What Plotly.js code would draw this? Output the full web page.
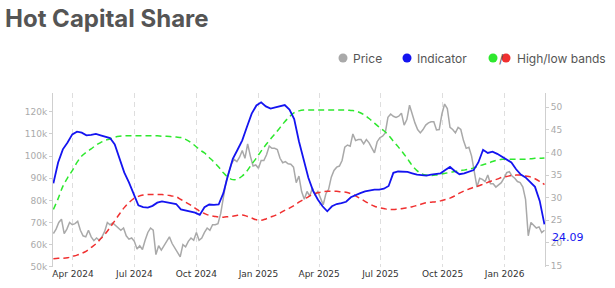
<!DOCTYPE html>
<html>
<head>
<meta charset="utf-8">
<script src="https://cdn.plot.ly/plotly-3.0.1.min.js"></script>
<style>html,body{margin:0;padding:0;background:#fff}</style>
</head>
<body>
<div id="chart" style="width:615px;height:288px"></div>
<script>
// Price (USD thousands), sampled every 4 days
const priceStart = '2024-03-03';
const priceStepDays = 4;
const price = [
  65, 67, 70, 71.5, 65, 67, 70, 69, 69.5, 70.5,
  66.5, 64, 63.5, 66.5, 63.5, 61.8, 63, 62, 63.5, 66,
  70, 69, 69.8, 68.7, 67.5, 66.5, 67.5, 64, 62.5, 63,
  61.5, 58, 59.5, 57.8, 62, 65.5, 67.5, 66.5, 55.5, 59.5,
  57.5, 59.5, 61, 63.5, 60.5, 58.5, 56.5, 54.5, 60, 59,
  61.5, 63, 62, 65.5, 62, 63, 65.5, 67.5, 66.5, 69,
  69, 69.5, 74, 81, 88.5, 92.5, 96.5, 98.5, 97.5, 99.5,
  102.5, 99, 105.5, 100, 95.5, 96, 94.5, 98, 98, 100.6,
  104.5, 103.5, 103.5, 103, 99, 97, 97.5, 96.5, 96.3, 95,
  88, 91, 84, 80.5, 84, 82, 85.5, 82.5, 84, 81,
  78, 83, 85, 90.5, 93.5, 95, 95.5, 98, 104, 105,
  104.5, 110, 107, 107.5, 107.5, 105.5, 107.5, 106, 104, 101.5,
  106.5, 108.3, 109, 110.5, 117.5, 119, 118, 117.5, 118, 119.4,
  114, 116.5, 123, 118.5, 115, 112, 110.5, 112, 114, 115,
  115.5, 115.5, 111.8, 112, 119, 123.5, 121.5, 113, 112, 110.5,
  113, 112, 107, 103.5, 104, 100, 93.5, 86, 90, 89.5,
  88.5, 91.5, 87.5, 87.5, 86, 87, 88, 90, 92.5, 93,
  91, 90, 88.5, 88, 86, 80.5, 64, 70, 68.5, 67.5,
  68, 65.5, 66.5
];

// Indicator and its bands, sampled weekly
const weeklyStart = '2024-03-03';
const weeklyStepDays = 7;
const indicator = [
  33.2, 37.8, 40.7, 42.2, 44.0, 44.6, 44.4, 43.8, 43.9, 44.1,
  43.8, 43.5, 43.2, 41.8, 38.7, 35.6, 33.4, 30.7, 28.3, 27.9,
  27.8, 28.2, 28.9, 29.2, 29.0, 28.8, 28.6, 27.4, 27.2, 27.0,
  26.7, 26.2, 27.9, 28.5, 28.4, 28.5, 31.0, 35.0, 38.6, 40.6,
  42.7, 45.7, 48.6, 50.4, 51.1, 50.2, 49.7, 50.0, 50.3, 50.5,
  49.5, 47.4, 42.5, 38.5, 34.4, 31.5, 29.6, 28.1, 27.0, 28.1,
  28.6, 28.8, 29.1, 30.1, 30.6, 31.0, 31.4, 31.6, 31.8, 31.8,
  32.0, 32.6, 35.5, 35.8, 35.8, 35.7, 35.4, 35.1, 35.0, 34.9,
  35.1, 35.3, 35.4, 36.1, 36.8, 35.9, 35.2, 35.4, 35.8, 36.1,
  37.8, 40.6, 39.9, 40.2, 39.7, 39.1, 38.5, 37.8, 36.3, 35.1,
  34.5, 33.4, 32.4, 29.3, 24.09
];
const highBand = [
  27.4, 29.8, 32.5, 34.4, 36.0, 37.8, 39.2, 40.1, 40.8, 41.6,
  42.2, 42.7, 43.0, 43.4, 43.6, 43.7, 43.7, 43.7, 43.7, 43.7,
  43.7, 43.7, 43.7, 43.6, 43.6, 43.5, 43.4, 43.3, 42.9, 42.3,
  41.5, 40.6, 39.9, 38.9, 37.9, 36.8, 35.5, 34.5, 34.0, 34.1,
  34.8, 35.9, 37.4, 38.8, 40.3, 41.7, 43.0, 44.2, 45.5, 46.8,
  47.9, 48.8, 49.2, 49.4, 49.4, 49.4, 49.4, 49.4, 49.4, 49.4,
  49.4, 49.4, 49.4, 49.3, 49.2, 48.8, 48.2, 47.4, 46.5, 45.6,
  44.8, 43.8, 42.5, 41.3, 40.0, 38.6, 37.1, 36.0, 35.3, 35.0,
  34.9, 35.0, 35.2, 35.4, 35.6, 35.8, 36.0, 36.1, 36.3, 36.6,
  37.0, 37.3, 37.6, 38.0, 38.3, 38.5, 38.5, 38.5, 38.5, 38.5,
  38.5, 38.6, 38.7, 38.7, 38.8
];
const lowBand = [
  16.5, 16.6, 16.6, 16.7, 17.0, 17.3, 17.7, 18.2, 19.0, 19.8,
  20.9, 22.0, 23.4, 24.9, 26.4, 27.8, 28.9, 29.8, 30.3, 30.6,
  30.7, 30.7, 30.7, 30.7, 30.6, 30.4, 30.2, 29.6, 29.0, 28.4,
  27.7, 27.0, 26.5, 26.1, 25.9, 25.7, 25.7, 25.8, 25.9, 26.1,
  26.2, 25.9, 25.5, 25.1, 25.0, 25.3, 25.7, 26.1, 26.6, 27.2,
  27.7, 28.3, 29.0, 29.6, 30.2, 30.8, 31.1, 31.3, 31.4, 31.4,
  31.4, 31.3, 31.2, 30.9, 30.4, 29.8, 29.2, 28.6, 28.1, 27.8,
  27.6, 27.4, 27.4, 27.5, 27.6, 27.8, 28.0, 28.3, 28.6, 28.9,
  29.0, 29.1, 29.3, 29.6, 29.9, 30.4, 31.0, 31.5, 31.9, 32.3,
  32.6, 33.0, 33.4, 33.8, 34.1, 34.5, 34.7, 34.9, 35.0, 35.0,
  34.8, 34.6, 34.2, 33.6, 32.9
];

// Axis ticks
const xTickDates = ['2024-04-01', '2024-07-01', '2024-10-01', '2025-01-01',
                    '2025-04-01', '2025-07-01', '2025-10-01', '2026-01-01'];
const priceTicks = [50, 60, 70, 80, 90, 100, 110, 120];
const priceTickText = ['50k', '60k', '70k', '80k', '90k', '100k', '110k', '120k'];
const indicatorTicks = [15, 20, 25, 30, 35, 40, 45, 50];

function dateSeries(start, stepDays, count) {
  const t0 = Date.parse(start + 'T00:00:00Z');
  const out = [];
  for (let i = 0; i < count; i++) {
    out.push(new Date(t0 + i * stepDays * 86400000).toISOString().slice(0, 10));
  }
  return out;
}

const priceDates = dateSeries(priceStart, priceStepDays, price.length);
const weeklyDates = dateSeries(weeklyStart, weeklyStepDays, indicator.length);

const GREY = '#a9a9a9', BLUE = '#1414f0', GREEN = '#2ee82e', RED = '#f03030';

const traces = [
  { x: priceDates, y: price, yaxis: 'y', type: 'scatter', mode: 'lines',
    line: { color: GREY, width: 1.5 }, hoverinfo: 'skip' },
  { x: weeklyDates, y: highBand, yaxis: 'y2', type: 'scatter', mode: 'lines',
    line: { color: GREEN, width: 1.5, dash: '6px,4px', shape: 'spline' } },
  { x: weeklyDates, y: lowBand, yaxis: 'y2', type: 'scatter', mode: 'lines',
    line: { color: RED, width: 1.5, dash: '6px,4px', shape: 'spline' } },
  { x: weeklyDates, y: indicator, yaxis: 'y2', type: 'scatter', mode: 'lines',
    line: { color: BLUE, width: 1.8 } }
];

// plot box in pixels: left 53, right 545, top 93, bottom 267
const L = 53, R = 545, T = 93, B = 267;
const px = v => (v - L) / (R - L);
const py = v => (B - v) / (B - T);

function dot(cx, cy, color) {
  return { type: 'circle', xref: 'paper', yref: 'paper',
    xsizemode: 'pixel', ysizemode: 'pixel',
    xanchor: px(cx), yanchor: py(cy), x0: -4.5, x1: 4.5, y0: -4.5, y1: 4.5,
    fillcolor: color, line: { width: 0 } };
}
function legendText(x, text) {
  return { xref: 'paper', yref: 'paper', x: px(x), y: py(58), xanchor: 'left', yanchor: 'middle',
    text: text, showarrow: false, font: { family: 'Inter, Roboto, sans-serif', size: 12, color: '#555' } };
}

const lastValue = indicator[indicator.length - 1];

const layout = {
  width: 615, height: 288,
  margin: { l: L, r: 615 - R, t: T, b: 288 - B },
  paper_bgcolor: '#fff', plot_bgcolor: '#fff',
  showlegend: false,
  title: { text: 'Hot Capital Share', xref: 'container', yref: 'container',
    x: 5 / 615, xanchor: 'left', y: 1 - 19 / 288, yanchor: 'middle',
    font: { family: 'Inter, Roboto, sans-serif', size: 24, weight: 700, color: '#555' } },
  xaxis: {
    type: 'date', range: ['2024-03-02 10:00', '2026-03-01 20:00'],
    tickvals: xTickDates, tickformat: '%b %Y',
    showgrid: true, gridcolor: '#dedede', gridwidth: 1, griddash: '5px,4px',
    showline: false, zeroline: false, ticks: '',
    tickfont: { family: 'DejaVu Sans', size: 9, color: '#333' }
  },
  yaxis: {
    range: [49.9, 128.5], tickvals: priceTicks, ticktext: priceTickText,
    showgrid: false, zeroline: false, showline: true, linecolor: '#cfcfcf', linewidth: 1,
    ticks: 'outside', ticklen: 3, tickcolor: '#cfcfcf',
    tickfont: { family: 'DejaVu Sans', size: 9, color: '#aaa' }
  },
  yaxis2: {
    overlaying: 'y', side: 'right', range: [14.67, 53.16], tickvals: indicatorTicks,
    showgrid: false, zeroline: false, showline: true, linecolor: '#cfcfcf', linewidth: 1,
    ticks: 'outside', ticklen: 3, tickcolor: '#cfcfcf',
    tickfont: { family: 'DejaVu Sans', size: 9, color: '#aaa' }
  },
  shapes: [
    dot(343, 58, GREY), dot(407, 58, BLUE), dot(493, 58, GREEN), dot(506, 58, RED)
  ],
  annotations: [
    legendText(351, 'Price'),
    legendText(415, 'Indicator'),
    legendText(497, '/'),
    legendText(515, 'High/low bands'),
    { xref: 'paper', yref: 'y2', x: 1, y: lastValue, xanchor: 'left', yanchor: 'middle',
      xshift: 5, yshift: -13, text: String(lastValue), showarrow: false,
      font: { family: 'DejaVu Sans', size: 11, color: BLUE } }
  ]
};

Plotly.newPlot('chart', traces, layout, { staticPlot: true, displayModeBar: false });
</script>
</body>
</html>
